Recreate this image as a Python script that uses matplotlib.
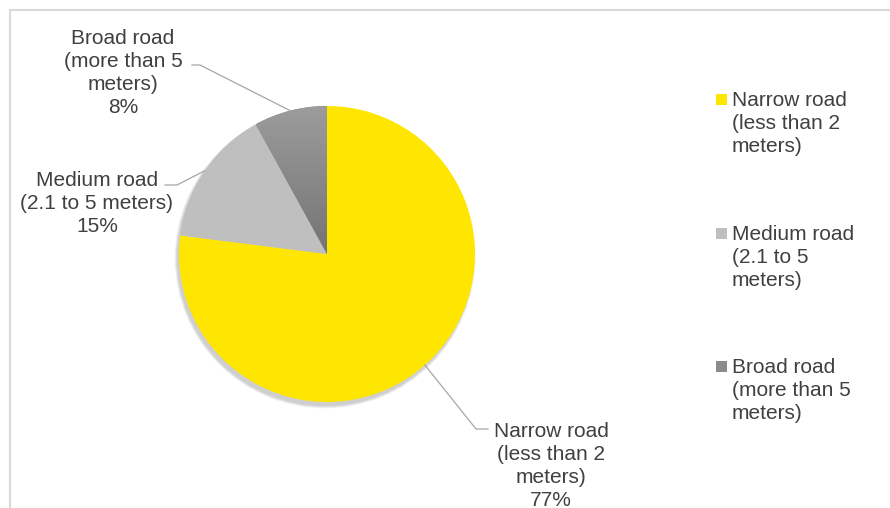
import numpy as np
import matplotlib.pyplot as plt
from matplotlib.patches import Circle, Rectangle
from matplotlib.colors import LinearSegmentedColormap

plt.rcParams['font.family'] = ['Liberation Sans', 'DejaVu Sans']

# data
categories = ["Narrow road\n(less than 2\nmeters)",
              "Medium road\n(2.1 to 5 meters)",
              "Broad road\n(more than 5\nmeters)"]
legend_labels = ["Narrow road\n(less than 2\nmeters)",
                 "Medium road\n(2.1 to 5\nmeters)",
                 "Broad road\n(more than 5\nmeters)"]
shares = [77, 15, 8]
colors = ["#FFE600", "#BFBFBF", "#8C8C8C"]

W, H = 890, 508
TEXT = "#404040"
LEADER = "#A6A6A6"
cx, cy, R = 327, 254, 148
STEP = 23.7   # px between text baselines
LS = 1.27

# label layout in pixels from top-left: text (x, first baseline), elbow (x, y), end x
label_pos = [(551, 435), (97, 185), (123, 42)]
elbows = [(476, 429), (177, 185), (200, 65)]
ends = [488, 165, 192]
legend_base = [105, 239, 372]


def put_text(x, first_base, s, **kw):
    # va='baseline' aligns the last line, so shift by the number of lines
    n = s.count("\n")
    ax.text(x, H - first_base - n * STEP, s, va="baseline", fontsize=15,
            color=TEXT, linespacing=LS, zorder=4, **kw)


fig = plt.figure(figsize=(W / 100, H / 100), dpi=100)
ax = fig.add_axes([0, 0, 1, 1])

# chart border (cut off on the right and bottom)
ax.plot([10, 10, W + 5], [-5, H - 10, H - 10], color="#D9D9D9", lw=1.5,
        clip_on=False, zorder=0, solid_capstyle='butt')

# soft shadow under the pie
for k in range(5):
    ax.add_patch(Circle((cx - 2, cy - 4), R + 0.6 * k, color="black",
                        alpha=0.04, lw=0, zorder=0.5))

wedges, _ = ax.pie(shares, colors=colors, startangle=90, counterclock=False,
                   center=(cx, cy), radius=R, frame=True,
                   wedgeprops=dict(linewidth=0))

# gradient on the dark wedge
grad = np.linspace(0, 1, 256).reshape(-1, 1)
cmap = LinearSegmentedColormap.from_list("g", ["#747474", "#9C9C9C"])
im = ax.imshow(grad, extent=[cx - R, cx, cy, cy + R], origin="lower",
               cmap=cmap, aspect="auto", zorder=2)
im.set_clip_path(wedges[2])

# data labels with leader lines
for w, cat, share, (tx, ty), (ex, ey), endx in zip(wedges, categories, shares,
                                                   label_pos, elbows, ends):
    mid = np.deg2rad((w.theta1 + w.theta2) / 2)
    px, py = cx + R * np.cos(mid), cy + R * np.sin(mid)
    ax.plot([endx, ex, px], [H - ey, H - ey, py], color=LEADER, lw=0.9, zorder=3)
    put_text(tx, ty, f"{cat}\n{share}%", ha="center", multialignment="center")

# legend
for lab, col, base in zip(legend_labels, colors, legend_base):
    ax.add_patch(Rectangle((716, H - base), 11, 11, color=col, lw=0, zorder=3))
    put_text(732, base, lab, ha="left")

ax.set_xlim(0, W)
ax.set_ylim(0, H)
ax.axis("off")

fig.savefig("out.png", dpi=100)
